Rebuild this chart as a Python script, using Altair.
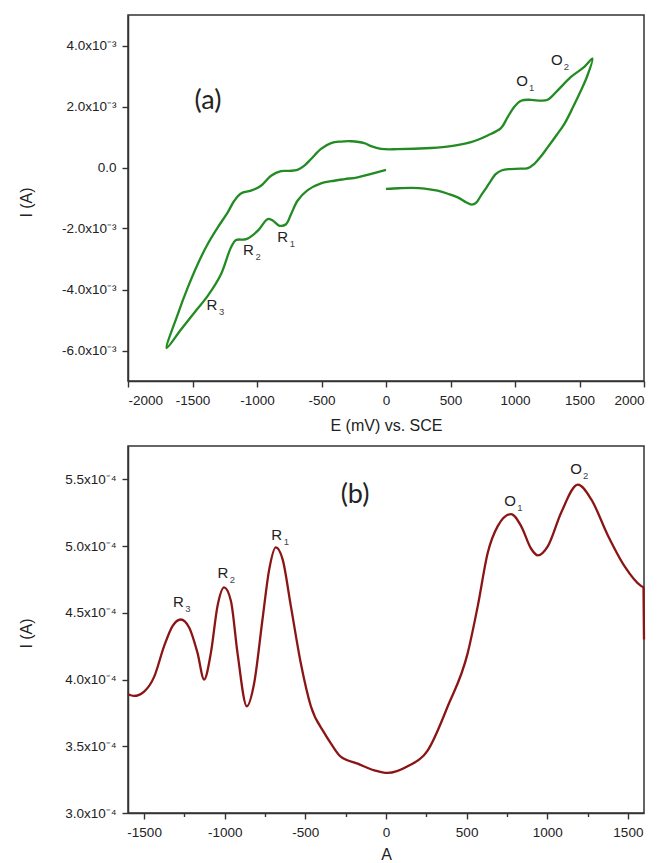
import altair as alt
import pandas as pd

# ---------------- (a) cyclic voltammogram (current in units of 1e-3 A) ----------------
cv_E = [0, 100, 200, 300, 400, 480, 556, 620, 665, 700, 736, 780, 814, 850, 900, 960, 1040, 1100, 1150,
        1200, 1253, 1320, 1383, 1450, 1512, 1560, 1600,
        1537, 1434, 1331, 1253, 1202, 1124, 1047, 995, 943, 891, 788, 659, 504, 349, 90, -39, -116, -168,
        -271, -349, -426, -504, -581, -633, -686, -750, -814, -891, -969, -1047, -1124, -1176, -1227,
        -1305, -1382, -1460, -1537, -1615, -1700,
        -1589, -1486, -1382, -1279, -1202, -1163, -1085, -995, -917, -878, -826, -775, -736, -686, -607,
        -504, -426, -320, -220, 0]
cv_I_mA = [-0.70, -0.68, -0.67, -0.69, -0.76, -0.86, -0.98, -1.14, -1.22, -1.15, -0.92, -0.65, -0.43, -0.22,
           -0.09, -0.05, -0.04, -0.02, 0.12, 0.36, 0.66, 1.05, 1.43, 1.98, 2.53, 3.00, 3.57,
           3.30, 2.97, 2.53, 2.22, 2.19, 2.22, 2.19, 1.99, 1.65, 1.29, 1.05, 0.83, 0.70, 0.64, 0.60, 0.61,
           0.70, 0.80, 0.86, 0.85, 0.80, 0.61, 0.28, 0.06, -0.08, -0.11, -0.12, -0.27, -0.60, -0.76, -0.85,
           -1.09, -1.47, -1.97, -2.51, -3.17, -3.94, -4.82, -5.92,
           -5.31, -4.76, -4.21, -3.50, -2.62, -2.38, -2.35, -2.08, -1.69, -1.74, -1.91, -1.86, -1.53, -1.09,
           -0.74, -0.52, -0.45, -0.38, -0.32, -0.08]

cv_lab = ["O", "O", "R", "R", "R"]
cv_sub = ["1", "2", "1", "2", "3"]
cv_lab_E = [1054, 1324, -801, -1066, -1349]
cv_lab_I_mA = [2.83, 3.54, -2.27, -2.70, -4.51]

# ---------------- (b) DPV (current in units of 1e-4 A) ----------------
dpv_E = [-1600, -1563, -1500, -1438, -1376, -1324, -1273, -1221, -1169, -1128, -1086, -1045, -1004, -962,
         -921, -863, -818, -766, -725, -683, -641, -590, -528, -466, -383, -341, -279, -176, -72, 10, 134,
         259, 383, 507, 569, 631, 693, 776, 838, 900, 942, 1004, 1086, 1190, 1273, 1376, 1479, 1583, 1597,
         1600]
dpv_I_e4 = [3.89, 3.877, 3.91, 4.02, 4.25, 4.40, 4.45, 4.39, 4.20, 4.00, 4.20, 4.55, 4.69, 4.59, 4.20, 3.80,
            3.97, 4.45, 4.82, 4.99, 4.90, 4.55, 4.12, 3.80, 3.60, 3.52, 3.42, 3.37, 3.32, 3.30, 3.35, 3.47,
            3.80, 4.20, 4.55, 4.95, 5.15, 5.24, 5.15, 4.98, 4.93, 5.00, 5.25, 5.46, 5.35, 5.08, 4.85, 4.70,
            4.69, 4.30]

dpv_lab = ["R", "R", "R", "O", "O"]
dpv_sub = ["3", "2", "1", "1", "2"]
dpv_lab_E = [-1288, -1012, -678, 770, 1179]
dpv_lab_I_e4 = [4.58, 4.795, 5.08, 5.336, 5.58]

panel_a = ["(a)"]
panel_a_E = [-1380]
panel_a_I_mA = [2.17]
panel_b = ["(b)"]
panel_b_E = [-192]
panel_b_I_e4 = [5.38]

# tick positions (major ones get labels)
xa_values = list(range(-2000, 2001, 250))
ya_values = [-6, -5, -4, -3, -2, -1, 0, 1, 2, 3, 4]
xb_values = list(range(-1500, 1501, 250))
yb_values = [3.0, 3.25, 3.5, 3.75, 4.0, 4.25, 4.5, 4.75, 5.0, 5.25, 5.5]

# ---------------- tables ----------------
cv = pd.DataFrame({"E": cv_E, "I": cv_I_mA, "k": list(range(len(cv_E)))})
cvl = pd.DataFrame({"E": cv_lab_E, "I": cv_lab_I_mA, "L": cv_lab, "S": cv_sub})
cvp = pd.DataFrame({"E": panel_a_E, "I": panel_a_I_mA, "T": panel_a})
dpv = pd.DataFrame({"E": dpv_E, "I": dpv_I_e4, "k": list(range(len(dpv_E)))})
dpvl = pd.DataFrame({"E": dpv_lab_E, "I": dpv_lab_I_e4, "L": dpv_lab, "S": dpv_sub})
dpvp = pd.DataFrame({"E": panel_b_E, "I": panel_b_I_e4, "T": panel_b})

W = 516
TITLE_X = -97
FONT = "Liberation Sans"
MAJ, MIN = 6, 3.5

x_major = "(datum.value % 500 == 0)"
xa = alt.X("E:Q", scale=alt.Scale(domain=[-2000, 2000], nice=False, zero=False),
           axis=alt.Axis(values=xa_values, title="E (mV) vs. SCE", labelOverlap=False,
                         labelExpr=x_major + " ? ('' + datum.value) : ''",
                         tickSize={"condition": {"test": x_major, "value": MAJ}, "value": MIN},
                         titleBaseline="alphabetic", titleY=49))

ya_major = "(datum.value % 2 == 0)"
ya_text = ("datum.value == 0 ? '0.0' : "
           "((datum.value < 0 ? '-' : '') + format(abs(datum.value), '.1f') + 'x10\u207b\u00b3')")
ya = alt.Y("I:Q", scale=alt.Scale(domain=[-7, 5], nice=False, zero=False),
           axis=alt.Axis(values=ya_values, title="I (A)", labelOverlap=False,
                         labelExpr=ya_major + " ? (" + ya_text + ") : ''",
                         tickSize={"condition": {"test": ya_major, "value": MAJ}, "value": MIN},
                         titleX=TITLE_X, titleY=187, titleAngle=270, titleBaseline="alphabetic",
                         titleAlign="center"))

xb = alt.X("E:Q", scale=alt.Scale(domain=[-1600, 1600], nice=False, zero=False),
           axis=alt.Axis(values=xb_values, title="A", labelOverlap=False,
                         labelExpr=x_major + " ? ('' + datum.value) : ''",
                         tickSize={"condition": {"test": x_major, "value": MAJ}, "value": MIN},
                         titleBaseline="alphabetic", titleY=46))

yb_major = "(abs(datum.value*2 - round(datum.value*2)) < 0.001)"
yb = alt.Y("I:Q", scale=alt.Scale(domain=[3.0, 5.75], nice=False, zero=False),
           axis=alt.Axis(values=yb_values, title="I (A)", labelOverlap=False,
                         labelExpr=yb_major + " ? (format(datum.value, '.1f') + 'x10\u207b\u2074') : ''",
                         tickSize={"condition": {"test": yb_major, "value": MAJ}, "value": MIN},
                         titleX=TITLE_X, titleY=187, titleAngle=270, titleBaseline="alphabetic",
                         titleAlign="center"))

GREEN = "#238b23"
RED = "#8b1515"

line_a = alt.Chart(cv).mark_line(color=GREEN, strokeWidth=2.3, interpolate="catmull-rom").encode(
    x=xa, y=ya, order="k:Q")
lab_a = alt.Chart(cvl).mark_text(font=FONT, fontSize=15, color="#222").encode(
    x="E:Q", y="I:Q", text="L:N")
sub_a = alt.Chart(cvl).mark_text(font=FONT, fontSize=9.5, color="#444", align="left", dx=7, dy=7).encode(
    x="E:Q", y="I:Q", text="S:N")
pan_a = alt.Chart(cvp).mark_text(font="Lato", fontSize=27, color="#222").encode(
    x="E:Q", y="I:Q", text="T:N")
top = alt.layer(line_a, lab_a, sub_a, pan_a).properties(width=W, height=366)

line_b = alt.Chart(dpv).mark_line(color=RED, strokeWidth=2.3, interpolate="monotone").encode(
    x=xb, y=yb, order="k:Q")
lab_b = alt.Chart(dpvl).mark_text(font=FONT, fontSize=15, color="#222").encode(
    x="E:Q", y="I:Q", text="L:N")
sub_b = alt.Chart(dpvl).mark_text(font=FONT, fontSize=9.5, color="#444", align="left", dx=7, dy=7).encode(
    x="E:Q", y="I:Q", text="S:N")
pan_b = alt.Chart(dpvp).mark_text(font="Lato", fontSize=27, color="#222").encode(
    x="E:Q", y="I:Q", text="T:N")
bottom = alt.layer(line_b, lab_b, sub_b, pan_b).properties(width=W, height=367)

chart = alt.vconcat(top, bottom, spacing=11).properties(
    padding={"left": 9, "top": 6, "right": 0, "bottom": 0}
).configure_view(
    stroke="#333", strokeWidth=1.5
).configure_axis(
    grid=False, domainColor="#333", domainWidth=1.5, tickColor="#333", tickWidth=1.4,
    labelFont=FONT, labelFontSize=13.5, labelColor="#222", labelPadding=6,
    titleFont=FONT, titleFontSize=16, titleFontWeight="normal", titleColor="#222"
)

chart.save("out.html", embed_options={"renderer": "svg", "actions": False})
